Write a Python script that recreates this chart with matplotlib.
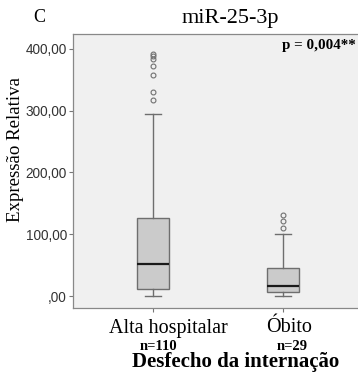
import matplotlib
matplotlib.use("Agg")
from matplotlib import pyplot as plt

# data
groups = ["Alta hospitalar", "Óbito"]
group_n = ["n=110", "n=29"]
q1 = [11, 6]
median = [52, 16]
q3 = [127, 45]
whisker_low = [0, 0]
whisker_high = [295, 100]
outliers_alta = [391, 388, 383, 373, 357, 330, 318]
outliers_obito = [131, 121, 110]
yticks = [0, 100, 200, 300, 400]
ytick_labels = [",00", "100,00", "200,00", "300,00", "400,00"]

serif = "Liberation Serif"
sans = "Liberation Sans"

fig = plt.figure(figsize=(3.58, 3.72), dpi=100)
ax = fig.add_axes([0.204, 0.172, 0.81, 0.7366])
ax.set_facecolor("#f0f0f0")

stats = []
for i, fl in enumerate([outliers_alta, outliers_obito]):
    stats.append(dict(med=median[i], q1=q1[i], q3=q3[i],
                      whislo=whisker_low[i], whishi=whisker_high[i], fliers=fl))

edge = "#6e6e6e"
ax.bxp(stats, positions=[1, 2], widths=0.246, capwidths=0.13, patch_artist=True,
       boxprops=dict(facecolor="#cbcbcb", edgecolor=edge, linewidth=1.0),
       medianprops=dict(color="#1a1a1a", linewidth=1.6),
       whiskerprops=dict(color=edge, linewidth=1.0),
       capprops=dict(color=edge, linewidth=1.0),
       flierprops=dict(marker="o", markersize=3.5, markerfacecolor="none",
                       markeredgecolor="#707070", markeredgewidth=0.8))

ax.set_xlim(0.385, 2.615)
ax.set_ylim(-19.4, 424)
ax.set_yticks(yticks)
ax.set_yticklabels(ytick_labels, fontfamily=sans, fontsize=9.8, color="#333333")
ax.set_xticks([1, 2])
ax.set_xticklabels(["", ""])
ax.tick_params(axis="both", direction="out", length=3, width=0.8, color="#777777",
               pad=1.5)
for s in ax.spines.values():
    s.set_color("#888888")
    s.set_linewidth(0.9)

# group labels and counts
fig.text(168 / 358, 1 - 328 / 372, groups[0], fontfamily=serif, fontsize=14.5,
         ha="center", va="center")
fig.text(289 / 358, 1 - 328 / 372, groups[1], fontfamily=serif, fontsize=14.5,
         ha="center", va="center")
fig.text(158 / 358, 1 - 347 / 372, group_n[0], fontfamily=serif, fontsize=10.5,
         fontweight="bold", ha="center", va="center")
fig.text(292 / 358, 1 - 347 / 372, group_n[1], fontfamily=serif, fontsize=10.5,
         fontweight="bold", ha="center", va="center")
fig.text(236 / 358, 1 - 362 / 372, "Desfecho da internação", fontfamily=serif,
         fontsize=15, fontweight="bold", ha="center", va="center")

fig.text(16 / 358, 1 - 149 / 372, "Expressão Relativa", fontfamily=serif,
         fontsize=13.6, rotation=90, ha="center", va="center")
fig.text(230 / 358, 1 - 19 / 372, "miR-25-3p", fontfamily=serif, fontsize=16,
         ha="center", va="center")
fig.text(33 / 358, 1 - 17 / 372, "C", fontfamily=serif, fontsize=13,
         ha="left", va="center")
fig.text(282 / 358, 1 - 45 / 372, "p = 0,004**", fontfamily=serif, fontsize=10.8,
         fontweight="bold", ha="left", va="center")

fig.savefig("out.png", dpi=100)
